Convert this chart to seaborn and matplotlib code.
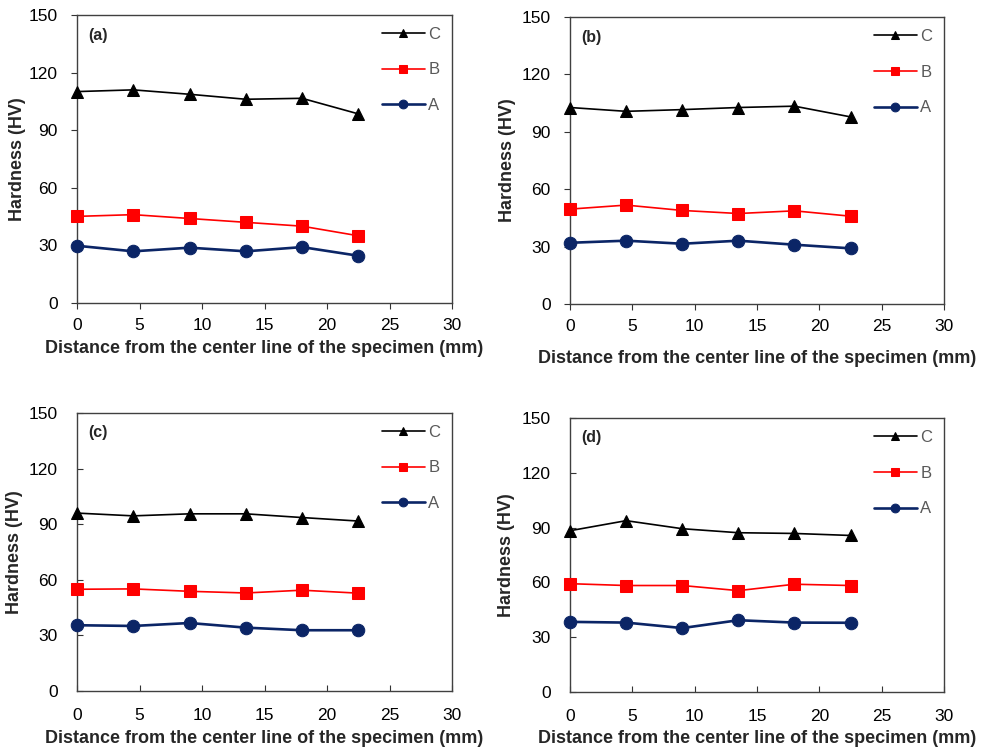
import pandas as pd
import seaborn as sns
import matplotlib.pyplot as plt

# distance from the center line (mm), same for every panel
distance = [0, 4.5, 9, 13.5, 18, 22.5]

# hardness values (HV)
a_C = [110.1, 111.0, 108.7, 106.1, 106.6, 98.5]
a_B = [45.1, 46.0, 44.0, 42.0, 40.0, 35.0]
a_A = [29.8, 26.9, 28.8, 26.9, 29.1, 24.6]

b_C = [102.7, 100.7, 101.6, 102.7, 103.4, 97.8]
b_B = [49.6, 51.7, 48.9, 47.3, 48.7, 45.9]
b_A = [32.0, 33.1, 31.5, 33.1, 31.0, 29.1]

c_C = [96.0, 94.5, 95.6, 95.6, 93.6, 91.7]
c_B = [54.9, 55.1, 53.8, 52.9, 54.4, 52.8]
c_A = [35.5, 35.1, 36.7, 34.2, 32.8, 32.8]

d_C = [88.3, 93.8, 89.4, 87.2, 86.8, 85.7]
d_B = [59.3, 58.3, 58.3, 55.5, 59.0, 58.3]
d_A = [38.4, 38.0, 35.0, 39.3, 38.0, 37.9]

panel_labels = ["(a)", "(b)", "(c)", "(d)"]
panel_data = [(a_C, a_B, a_A), (b_C, b_B, b_A), (c_C, c_B, c_A), (d_C, d_B, d_A)]

series_names = ["C", "B", "A"]
series_colors = ["black", "#ff0000", "#0b2566"]
series_markers = ["^", "s", "o"]
series_lw = [1.2, 1.2, 1.9]
series_ms = [9, 8, 9]

sns.set_style("white")
plt.rcParams["font.family"] = ["Liberation Sans", "DejaVu Sans"]

fig = plt.figure(figsize=(9.95, 7.49), dpi=100)

# axes boxes in figure fractions [left, bottom, width, height]
boxes = [
    [0.0774, 0.5955, 0.3769, 0.3845],
    [0.5729, 0.5941, 0.3759, 0.3832],
    [0.0774, 0.0774, 0.3769, 0.3712],
    [0.5729, 0.0761, 0.3759, 0.3658],
]
xlabel_y = [-0.128, -0.160, -0.140, -0.139]
ylabel_x = [-0.136, -0.144, -0.144, -0.147]

for i, box in enumerate(boxes):
    ax = fig.add_axes(box)
    for name, vals, col, mk, lw, ms in zip(series_names, panel_data[i], series_colors,
                                           series_markers, series_lw, series_ms):
        df = pd.DataFrame({"x": distance, "y": vals})
        sns.lineplot(data=df, x="x", y="y", ax=ax, color=col, marker=mk,
                     markersize=ms, markeredgecolor=col, linewidth=lw, label=name,
                     clip_on=False, zorder=3)

    ax.set_xlim(0, 30)
    ax.set_ylim(0, 150)
    ax.set_xticks(range(0, 31, 5))
    ax.set_yticks(range(0, 151, 30))
    if i < 2:
        ax.tick_params(axis="x", direction="out", pad=7)
        ax.tick_params(axis="y", direction="out", pad=10)
    else:
        ax.tick_params(axis="x", direction="in", pad=12)
        ax.tick_params(axis="y", direction="in", pad=14)
    ax.tick_params(axis="both", labelsize=12.5, length=4, width=0.8,
                   colors="#333333", labelcolor="black", bottom=True, left=True)
    for sp in ax.spines.values():
        sp.set_visible(True)
        sp.set_color("#404040")
        sp.set_linewidth(1.0)

    ax.set_xlabel("Distance from the center line of the specimen (mm)",
                  fontsize=13, fontweight="bold")
    ax.set_ylabel("Hardness (HV)", fontsize=13, fontweight="bold")
    ax.xaxis.set_label_coords(0.5, xlabel_y[i])
    ax.yaxis.set_label_coords(ylabel_x[i], 0.5)

    ax.text(0.03, 0.93, panel_labels[i], transform=ax.transAxes,
            fontsize=11.5, fontweight="bold", va="center", ha="left")

    leg = ax.legend(loc="upper right", bbox_to_anchor=(1.0, 1.0), frameon=False,
                    fontsize=12, handlelength=2.6, labelspacing=1.25,
                    handletextpad=0.2, markerscale=0.7, borderaxespad=0.3)
    for t in leg.get_texts():
        t.set_color("#595959")

fig.savefig("out.png", dpi=100)
